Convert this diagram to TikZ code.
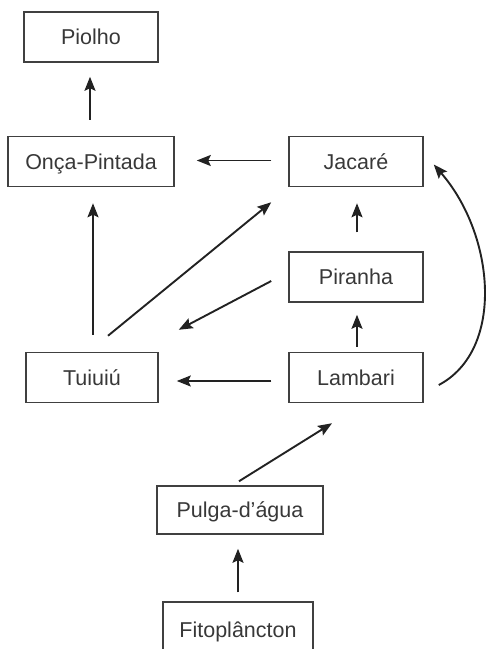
\documentclass[tikz,border=0pt]{standalone}
\usepackage{fontspec}
\setmainfont{Liberation Sans}
\usetikzlibrary{arrows.meta,calc}
\definecolor{ink}{HTML}{222222}
\definecolor{boxline}{HTML}{404040}
\begin{document}
\begin{tikzpicture}[x=1pt,y=-1pt,
  species/.style={draw=boxline,line width=1.5pt,rectangle,inner sep=0pt,
    minimum height=50pt,text=ink!90,font=\fontsize{21.5pt}{24pt}\selectfont,
    text height=15.5pt,text depth=0pt},
  link/.style={draw=ink,line width=1.9pt,-{Stealth[length=14pt,width=11pt,inset=2.5pt]}}]
\path[use as bounding box,clip] (0,0) rectangle (488,649);
\node[species,minimum width=134pt] (piolho) at (91,37) {Piolho};
\node[species,minimum width=166pt] (onca) at (91,161.5) {Onça-Pintada};
\node[species,minimum width=134pt] (jacare) at (356,161.5) {Jacaré};
\node[species,minimum width=134pt] (piranha) at (356,277) {Piranha};
\node[species,minimum width=132pt] (tuiuiu) at (92,377.5) {Tuiuiú};
\node[species,minimum width=134pt] (lambari) at (356,377.5) {Lambari};
\node[species,minimum width=166pt,minimum height=48pt] (pulga) at (240,510) {Pulga-d’água};
\node[species,minimum width=150pt,minimum height=56pt] (fito) at (238,630) {Fitoplâncton};
% arrows
\draw[link,shorten <=16pt,shorten >=14pt] ($(onca.north)+(-1,0)$) -- ($(piolho.south)+(-1,0)$);
\draw[link,shorten <=17pt,shorten >=22pt] ($(jacare.west)+(0,-1)$) -- ($(onca.east)+(0,-1)$);
\draw[link,shorten <=17pt,shorten >=16pt] ($(tuiuiu.north)+(1,0)$) -- ($(onca.south)+(2,0)$);
\draw[link] ($(tuiuiu.north)+(16,-16)$) -- ($(jacare.south west)+(-17,15)$);
\draw[link,shorten <=19pt,shorten >=16pt] ($(piranha.north)+(1,0)$) -- ($(jacare.south)+(1,0)$);
\draw[link] ($(piranha.west)+(-17,4)$) -- ($(tuiuiu.north east)+(20,-22)$);
\draw[link,shorten <=5pt,shorten >=12pt] ($(lambari.north)+(1,0)$) -- ($(piranha.south)+(1,0)$);
\draw[link,shorten <=17pt,shorten >=18pt] ($(lambari.west)+(0,3.5)$) -- ($(tuiuiu.east)+(0,3.5)$);
\draw[link] ($(lambari.east)+(15,7.5)$) .. controls (505,350) and (495,235) .. ($(jacare.east)+(10,3)$);
\draw[link] ($(pulga.north)+(-1,-4)$) -- ($(lambari.south)+(-24,20)$);
\draw[link,shorten <=9pt,shorten >=14pt] (fito.north) -- (pulga.south -| fito.north);
\end{tikzpicture}
\end{document}
